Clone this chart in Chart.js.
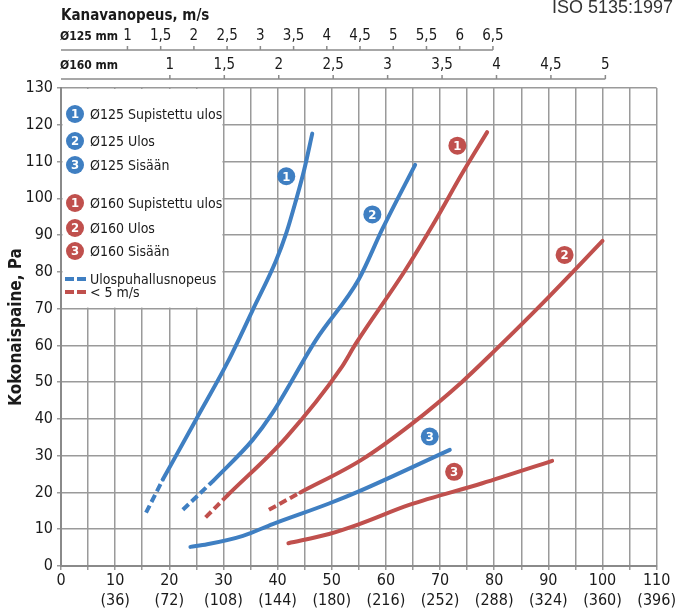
<!DOCTYPE html>
<html>
<head>
<meta charset="utf-8">
<script src="https://cdn.jsdelivr.net/npm/chart.js@4.4.1/dist/chart.umd.min.js"></script>
<style>
  body { margin: 0; background: #fff; }
  canvas { display: block; }
</style>
</head>
<body>
<canvas id="chart" width="676" height="615"></canvas>
<script>
const FONT = "'DejaVu Sans Condensed', 'Liberation Sans Narrow', sans-serif";
const BLUE = '#3f7fc2';
const RED = '#c0504d';
const GRID = '#9a9a9a';
const TEXT = '#1a1a1a';

// Ilmavirta l/s -> kokonaispaine Pa (luettu kuvasta)
const b1Dash = [[15.7, 14.5], [18.8, 23.5]];
const b1 = [[18.8, 23.5], [25, 40], [30.8, 55.5], [35.4, 69.6], [39.7, 83], [41.6, 90.5], [43.4, 99.5], [44.9, 107.7], [46.4, 117.6]];
const b2Dash = [[22.5, 15.3], [28.2, 23.3]];
const b2 = [[28.2, 23.3], [35.4, 34.3], [39, 41.5], [47.1, 61.5], [55, 78], [59.4, 91.8], [65.4, 109.1]];
const b3 = [[23.9, 5.2], [27, 5.9], [33.6, 8.2], [39.1, 11.4], [49.5, 17], [55, 20.3], [71.8, 31.6]];
const r1Dash = [[26.7, 13.2], [30.8, 19.3]];
const r1 = [[30.8, 19.3], [41.6, 35], [51.7, 53.8], [54.5, 60.6], [63.6, 80.5], [69.2, 94.1], [74.1, 106.8], [78.7, 118]];
const r2Dash = [[38.4, 15.3], [44.2, 20]];
const r2 = [[44.2, 20], [55.4, 28.8], [64.9, 38.8], [74, 50], [80.2, 58.7], [90.1, 73.2], [100, 88.4]];
const r3 = [[42, 6.2], [49.5, 8.7], [55.1, 11.4], [64.3, 16.6], [77.8, 22.5], [90.7, 28.6]];

// kanavanopeuden asteikot (m/s)
const top125Ticks = [1, 1.5, 2, 2.5, 3, 3.5, 4, 4.5, 5, 5.5, 6, 6.5];
const top160Ticks = [1, 1.5, 2, 2.5, 3, 3.5, 4, 4.5, 5];
const A125 = Math.PI / 4 * 0.125 * 0.125 * 1000; // l/s per m/s
const A160 = Math.PI / 4 * 0.16 * 0.16 * 1000;

// käyrien numerot (x l/s, y Pa)
const tags = [
  ['1', BLUE, 41.6, 106], ['2', BLUE, 57.5, 95.6], ['3', BLUE, 68.1, 35.2],
  ['1', RED, 73.2, 114.3], ['2', RED, 93, 84.6], ['3', RED, 72.6, 25.6]
];

const legendItems = [
  ['1', BLUE, 'Ø125 Supistettu ulos', 114],
  ['2', BLUE, 'Ø125 Ulos', 141],
  ['3', BLUE, 'Ø125 Sisään', 165],
  ['1', RED, 'Ø160 Supistettu ulos', 203],
  ['2', RED, 'Ø160 Ulos', 228],
  ['3', RED, 'Ø160 Sisään', 251]
];

const pts = arr => arr.map(p => ({ x: p[0], y: p[1] }));

function line(data, color, dashed) {
  return {
    data: pts(data),
    showLine: true,
    borderColor: color,
    backgroundColor: color,
    borderWidth: 4,
    borderDash: dashed ? [8, 4] : [],
    borderCapStyle: dashed ? 'butt' : 'round',
    cubicInterpolationMode: 'monotone',
    pointRadius: 0,
    pointHoverRadius: 0
  };
}

function tag(ctx, x, y, n, color) {
  ctx.beginPath();
  ctx.arc(x, y, 9, 0, Math.PI * 2);
  ctx.fillStyle = color;
  ctx.fill();
  ctx.fillStyle = '#fff';
  ctx.font = 'bold 13px ' + FONT;
  ctx.textAlign = 'center';
  ctx.textBaseline = 'middle';
  ctx.fillText(n, x, y + 1);
}

const extras = {
  id: 'extras',
  beforeDatasetsDraw(chart) {
    const { ctx, scales: { x, y } } = chart;
    ctx.save();
    // legend box over grid
    const l = x.getPixelForValue(0) + 1.5, r = x.getPixelForValue(30) - 1;
    const t = y.getPixelForValue(130) + 1, b = y.getPixelForValue(70) - 1;
    ctx.fillStyle = '#fff';
    ctx.fillRect(l, t, r - l, b - t);
    ctx.textBaseline = 'middle';
    legendItems.forEach(([n, c, txt, cy]) => {
      tag(ctx, 75, cy, n, c);
      ctx.fillStyle = TEXT;
      ctx.font = '14px ' + FONT;
      ctx.textAlign = 'left';
      ctx.fillText(txt, 90, cy + 1);
    });
    [[BLUE, 279, 'Ulospuhallusnopeus'], [RED, 292, '< 5 m/s']].forEach(([c, cy, txt]) => {
      ctx.strokeStyle = c;
      ctx.lineWidth = 4;
      ctx.setLineDash([9, 3]);
      ctx.beginPath();
      ctx.moveTo(65, cy);
      ctx.lineTo(86, cy);
      ctx.stroke();
      ctx.setLineDash([]);
      ctx.fillStyle = TEXT;
      ctx.font = '14px ' + FONT;
      ctx.textAlign = 'left';
      ctx.fillText(txt, 90, cy + 1);
    });
    ctx.restore();
  },
  afterDatasetsDraw(chart) {
    const { ctx, scales: { x, y } } = chart;
    ctx.save();
    tags.forEach(([n, c, vx, vy]) => tag(ctx, x.getPixelForValue(vx), y.getPixelForValue(vy), n, c));
    ctx.restore();
  },
  afterDraw(chart) {
    const { ctx, scales } = chart;
    ctx.save();
    // top velocity axes
    [[scales.x125, top125Ticks, 7, 'Ø125 mm'], [scales.x160, top160Ticks, 9, 'Ø160 mm']].forEach(([s, ticks, off, name]) => {
      const ly = s.bottom - off;
      ctx.strokeStyle = '#8a8a8a';
      ctx.lineWidth = 1.5;
      ctx.beginPath();
      ctx.moveTo(s.getPixelForValue(0), ly);
      ctx.lineTo(s.getPixelForValue(ticks[ticks.length - 1]), ly);
      ticks.forEach(v => {
        const px = s.getPixelForValue(v);
        ctx.moveTo(px, ly);
        ctx.lineTo(px, ly - 4);
      });
      ctx.stroke();
      ctx.fillStyle = TEXT;
      ctx.font = 'bold 12px ' + FONT;
      ctx.textAlign = 'left';
      ctx.textBaseline = 'middle';
      ctx.fillText(name, 60, ly - 13);
    });
    ctx.fillStyle = '#333';
    ctx.font = "18px 'Liberation Sans', Arial, sans-serif";
    ctx.textAlign = 'right';
    ctx.textBaseline = 'alphabetic';
    ctx.fillText('ISO 5135:1997', 673, 13);
    ctx.restore();
  }
};

new Chart(document.getElementById('chart'), {
  type: 'scatter',
  data: {
    datasets: [
      line(b1Dash, BLUE, true), line(b1, BLUE, false),
      line(b2Dash, BLUE, true), line(b2, BLUE, false),
      line(b3, BLUE, false),
      line(r1Dash, RED, true), line(r1, RED, false),
      line(r2Dash, RED, true), line(r2, RED, false),
      line(r3, RED, false)
    ]
  },
  options: {
    responsive: false,
    animation: false,
    layout: { padding: { left: 0, right: 19, top: 0, bottom: 0 } },
    plugins: { legend: { display: false }, tooltip: { enabled: false } },
    scales: {
      x: {
        type: 'linear', position: 'bottom', min: 0, max: 110,
        ticks: {
          stepSize: 5, autoSkip: false, maxRotation: 0, padding: 0, color: TEXT,
          font: { family: FONT, size: 16, lineHeight: 1.3 },
          callback: v => v % 10 ? '' : (v === 0 ? '0' : [String(v), '(' + Math.round(v * 3.6) + ')'])
        },
        grid: { color: GRID, lineWidth: 1.5, tickLength: 4 },
        border: { color: '#8a8a8a', width: 2 },
        afterFit: s => { s.height = 49; }
      },
      y: {
        min: 0, max: 130,
        ticks: { stepSize: 10, padding: 4, color: TEXT, font: { family: FONT, size: 16 } },
        grid: { color: GRID, lineWidth: 1.5, tickLength: 4 },
        border: { color: '#8a8a8a', width: 2 },
        title: { display: true, text: 'Kokonaispaine, Pa', color: TEXT, font: { family: FONT, size: 17, weight: 'bold' }, padding: { top: 6, bottom: 0 } },
        afterFit: s => { s.width = 61; }
      },
      x125: {
        type: 'linear', position: 'top', weight: 2, min: 0, max: 110 / A125,
        afterBuildTicks: s => { s.ticks = top125Ticks.map(v => ({ value: v })); },
        ticks: { autoSkip: false, maxRotation: 0, padding: 12, color: TEXT, font: { family: FONT, size: 15 }, callback: v => String(v).replace('.', ',') },
        grid: { display: false, drawTicks: false },
        border: { display: false },
        title: { display: true, text: 'Kanavanopeus, m/s', align: 'start', color: TEXT, font: { family: FONT, size: 15, weight: 'bold' }, padding: { top: 7, bottom: 0 } },
        afterFit: s => { s.height = 57; }
      },
      x160: {
        type: 'linear', position: 'top', weight: 1, min: 0, max: 110 / A160,
        afterBuildTicks: s => { s.ticks = top160Ticks.map(v => ({ value: v })); },
        ticks: { autoSkip: false, maxRotation: 0, padding: 14, color: TEXT, font: { family: FONT, size: 15 }, callback: v => String(v).replace('.', ',') },
        grid: { display: false, drawTicks: false },
        border: { display: false },
        afterFit: s => { s.height = 31; }
      }
    }
  },
  plugins: [extras]
});
</script>
</body>
</html>
